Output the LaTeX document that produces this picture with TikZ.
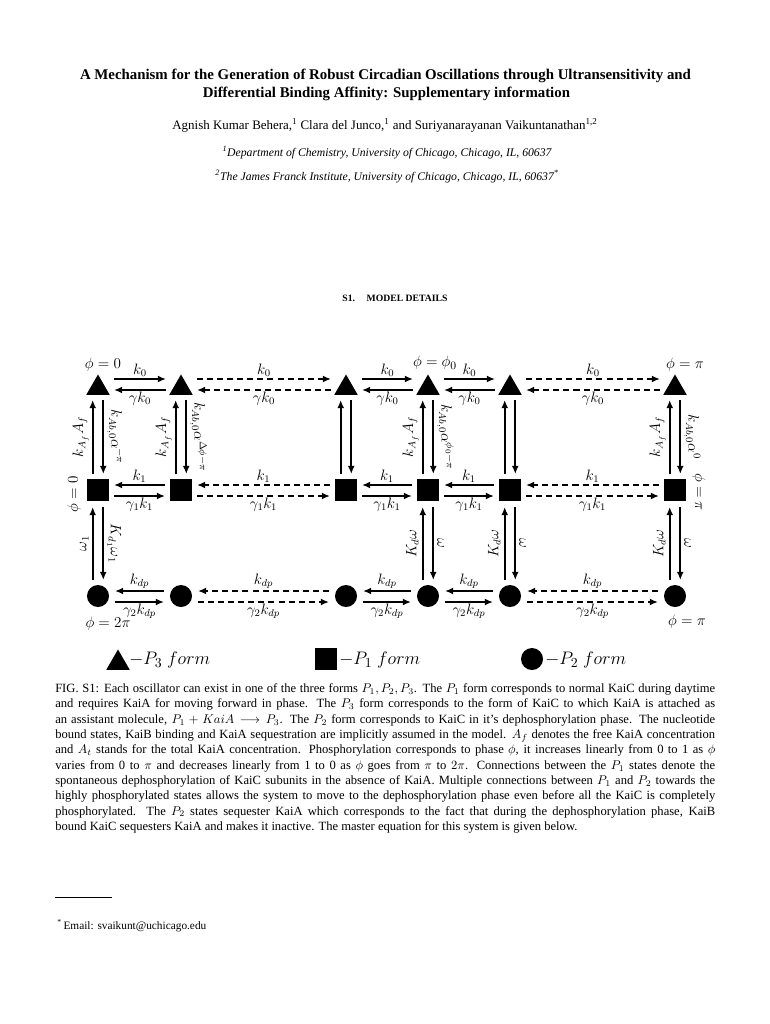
\documentclass[tikz,border=0pt]{standalone}
\usepackage{fontspec}
\setmainfont{Liberation Serif}
\usetikzlibrary{shapes.geometric,arrows.meta}
\begin{document}
\begin{tikzpicture}[x=0.795pt,y=-0.795pt,
 tri/.style={regular polygon,regular polygon sides=3,fill=black,inner sep=0pt,minimum size=21.5pt},
 sq/.style={rectangle,fill=black,inner sep=0pt,minimum size=17.5pt},
 circ/.style={circle,fill=black,inner sep=0pt,minimum size=17.5pt},
 arr/.style={line width=1.3pt,-{Latex[length=6.5pt,width=5.5pt]}},
 darr/.style={arr,dash pattern=on 4.8pt off 3.2pt},
 lab/.style={font=\fontsize{11.5}{13}\selectfont,inner sep=1.2pt},
 labb/.style={lab,inner sep=0.6pt},
 ph/.style={font=\fontsize{12.5}{14}\selectfont,inner sep=0pt},
 vl/.style={lab,rotate=90,anchor=south,inner sep=2.5pt},
 vr/.style={lab,rotate=-90,anchor=south,inner sep=2.5pt},
 leg/.style={anchor=west,inner sep=0pt,font=\fontsize{15}{17}\selectfont},
 capl/.style={anchor=base west,inner sep=0pt,font=\fontsize{10}{12}\selectfont},
 ctr/.style={anchor=base,inner sep=0pt},
]
\useasboundingbox[fill=white] (0,0) rectangle (770,1024);

% header text
\node[ctr,font=\fontsize{11.8}{14}\selectfont\bfseries] (title1) at (385.5,79) {A Mechanism for the Generation of Robust Circadian Oscillations through Ultransensitivity and};
\node[ctr,font=\fontsize{11.8}{14}\selectfont\bfseries] (title2) at (386.5,97) {Differential Binding Affinity: Supplementary information};
\node[ctr,font=\fontsize{10.3}{12}\selectfont] (auth) at (385,129) {Agnish Kumar Behera,\textsuperscript{1} Clara del Junco,\textsuperscript{1} and Suriyanarayanan Vaikuntanathan\textsuperscript{1,2}};
\node[ctr,font=\fontsize{9.3}{11}\selectfont\itshape] (aff1) at (387,156.5) {\textsuperscript{1}Department of Chemistry, University of Chicago, Chicago, IL, 60637};
\node[ctr,font=\fontsize{9.3}{11}\selectfont\itshape] (aff2) at (387,180.5) {\textsuperscript{2}The James Franck Institute, University of Chicago, Chicago, IL, 60637\textsuperscript{*}};
\node[ctr,font=\fontsize{7.7}{10}\selectfont\bfseries] (sec) at (395,301.5) {S1.\hspace{1.2em}MODEL DETAILS};

% states
\foreach \i/\x in {1/98,2/181,3/346,4/428,5/510,6/675} {
  \node[tri] (T\i) at (\x,388) {};
  \node[sq] (S\i) at (\x,490) {};
  \node[circ] (C\i) at (\x,596) {};
}

% horizontal connections
\foreach \a/\b/\s in {1/2/arr,2/3/darr,3/4/arr,4/5/arr,5/6/darr} {
  \draw[\s] ([shift={(16,-9)}]T\a.center) -- node[lab,above]{$k_0$} ([shift={(-15,-9)}]T\b.center);
  \draw[\s] ([shift={(-15,2)}]T\b.center) -- node[labb,below]{$\gamma k_0$} ([shift={(16,2)}]T\a.center);
  \draw[\s] ([shift={(-16,-5)}]S\b.center) -- node[lab,above]{$k_1$} ([shift={(16,-5)}]S\a.center);
  \draw[\s] ([shift={(16,6)}]S\a.center) -- node[labb,below]{$\gamma_1 k_1$} ([shift={(-16,6)}]S\b.center);
  \draw[\s] ([shift={(-17,-5)}]C\b.center) -- node[lab,above]{$k_{dp}$} ([shift={(17,-5)}]C\a.center);
  \draw[\s] ([shift={(17,6)}]C\a.center) -- node[labb,below]{$\gamma_2 k_{dp}$} ([shift={(-17,6)}]C\b.center);
}

% vertical connections P3 <-> P1
\draw[arr] ([shift={(-5.3,-16)}]S1.center) -- node[vl,midway]{$k_{A_f}A_f$} ([shift={(-5.3,12)}]T1.center);
\draw[arr] ([shift={(5.3,12)}]T1.center) -- node[vr,midway]{$k_{Ab,0}\alpha^{-\pi}$} ([shift={(5.3,-16)}]S1.center);
\draw[arr] ([shift={(-5.3,-16)}]S2.center) -- node[vl,midway]{$k_{A_f}A_f$} ([shift={(-5.3,12)}]T2.center);
\draw[arr] ([shift={(5.3,12)}]T2.center) -- node[vr,midway]{$k_{Ab,0}\alpha^{\Delta\phi-\pi}$} ([shift={(5.3,-16)}]S2.center);
\draw[arr] ([shift={(-5.3,-16)}]S3.center) -- ([shift={(-5.3,12)}]T3.center);
\draw[arr] ([shift={(5.3,12)}]T3.center) -- ([shift={(5.3,-16)}]S3.center);
\draw[arr] ([shift={(-5.3,-16)}]S4.center) -- node[vl,midway]{$k_{A_f}A_f$} ([shift={(-5.3,12)}]T4.center);
\draw[arr] ([shift={(5.3,12)}]T4.center) -- node[vr,midway]{$k_{Ab,0}\alpha^{\phi_0-\pi}$} ([shift={(5.3,-16)}]S4.center);
\draw[arr] ([shift={(-5.3,-16)}]S5.center) -- ([shift={(-5.3,12)}]T5.center);
\draw[arr] ([shift={(5.3,12)}]T5.center) -- ([shift={(5.3,-16)}]S5.center);
\draw[arr] ([shift={(-5.3,-16)}]S6.center) -- node[vl,midway]{$k_{A_f}A_f$} ([shift={(-5.3,12)}]T6.center);
\draw[arr] ([shift={(5.3,12)}]T6.center) -- node[vr,midway]{$k_{Ab,0}\alpha^{0}$} ([shift={(5.3,-16)}]S6.center);

% vertical connections P1 <-> P2
\draw[arr] ([shift={(-5.3,-16)}]C1.center) -- node[vl,midway]{$\omega_1$} ([shift={(-5.3,17)}]S1.center);
\draw[arr] ([shift={(5.3,17)}]S1.center) -- node[vr,midway]{$K_{d_1}\omega_1$} ([shift={(5.3,-16)}]C1.center);
\foreach \i in {4,5,6} {
  \draw[arr] ([shift={(-5.3,-16)}]C\i.center) -- node[vl,midway]{$K_d\omega$} ([shift={(-5.3,17)}]S\i.center);
  \draw[arr] ([shift={(5.3,17)}]S\i.center) -- node[vr,midway]{$\omega$} ([shift={(5.3,-16)}]C\i.center);
}

% phase labels
\node[ph] (p0) at (103,365) {$\phi=0$};
\node[ph] (pphi0) at (435,363) {$\phi=\phi_0$};
\node[ph] (ppi) at (685,365) {$\phi=\pi$};
\node[ph] (p2pi) at (108,624) {$\phi=2\pi$};
\node[ph] (ppib) at (687,622) {$\phi=\pi$};
\node[ph,rotate=90] (p0v) at (74,494) {$\phi=0$};
\node[ph,rotate=-90] (ppiv) at (699,492) {$\phi=\pi$};

% legend
\node[tri] (LT) at (118,663) {};
\node[leg] (LTt) at (129,660) {$-P_3\ form$};
\node[sq] (LS) at (326,659) {};
\node[leg] (LSt) at (339,660) {$-P_1\ form$};
\node[circ] (LC) at (532,659) {};
\node[leg] (LCt) at (545,660) {$-P_2\ form$};

% caption
\node[capl] (cap1) at (55,692.5) {\makebox[524.7pt][s]{FIG. S1: Each oscillator can exist in one of the three forms $P_1,P_2,P_3$. The $P_1$ form corresponds to normal KaiC during daytime}};
\node[capl] (cap2) at (55,707.8) {\makebox[524.7pt][s]{and requires KaiA for moving forward in phase. The $P_3$ form corresponds to the form of KaiC to which KaiA is attached as}};
\node[capl] (cap3) at (55,723.2) {\makebox[524.7pt][s]{an assistant molecule, $P_1+KaiA\longrightarrow P_3$. The $P_2$ form corresponds to KaiC in it's dephosphorylation phase. The nucleotide}};
\node[capl] (cap4) at (55,738.5) {\makebox[524.7pt][s]{bound states, KaiB binding and KaiA sequestration are implicitly assumed in the model. $A_f$ denotes the free KaiA concentration}};
\node[capl] (cap5) at (55,753.8) {\makebox[524.7pt][s]{and $A_t$ stands for the total KaiA concentration. Phosphorylation corresponds to phase $\phi$, it increases linearly from 0 to 1 as $\phi$}};
\node[capl] (cap6) at (55,769.2) {\makebox[524.7pt][s]{varies from 0 to $\pi$ and decreases linearly from 1 to 0 as $\phi$ goes from $\pi$ to $2\pi$. Connections between the $P_1$ states denote the}};
\node[capl] (cap7) at (55,784.5) {\makebox[524.7pt][s]{spontaneous dephosphorylation of KaiC subunits in the absence of KaiA. Multiple connections between $P_1$ and $P_2$ towards the}};
\node[capl] (cap8) at (55,799.8) {\makebox[524.7pt][s]{highly phosphorylated states allows the system to move to the dephosphorylation phase even before all the KaiC is completely}};
\node[capl] (cap9) at (55,815.1) {\makebox[524.7pt][s]{phosphorylated. The $P_2$ states sequester KaiA which corresponds to the fact that during the dephosphorylation phase, KaiB}};
\node[capl] (cap10) at (55,830.5) {bound KaiC sequesters KaiA and makes it inactive. The master equation for this system is given below.};

% footnote
\draw[line width=0.4pt] (55,897) -- (112,897);
\node[capl,font=\fontsize{9}{11}\selectfont] (fn) at (57,929.5) {\textsuperscript{*}\,Email: svaikunt@uchicago.edu};
\end{tikzpicture}
\end{document}
